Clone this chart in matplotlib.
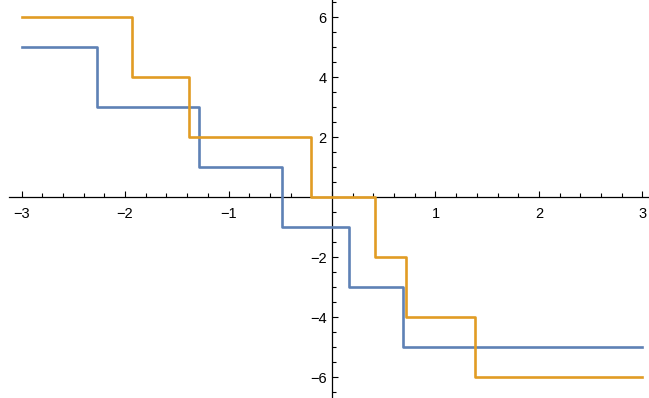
import numpy as np
import matplotlib.pyplot as plt
from matplotlib.ticker import MultipleLocator, FixedLocator, FuncFormatter

# step functions: breakpoints and the level on each interval
blue_x = [-3, -2.27, -1.285, -0.486, 0.164, 0.686, 3]
blue_y = [5, 3, 1, -1, -3, -5]
orange_x = [-3, -1.932, -1.382, -0.203, 0.419, 0.715, 1.385, 3]
orange_y = [6, 4, 2, 0, -2, -4, -6]

plt.rcParams['font.family'] = ['Liberation Sans', 'DejaVu Sans']

fig = plt.figure(figsize=(6.49, 3.98), dpi=100)
ax = fig.add_axes([0, 0, 1, 1])

ax.step(blue_x, blue_y + [blue_y[-1]], where='post', color='#5E81B5', lw=1.9, zorder=3)
ax.step(orange_x, orange_y + [orange_y[-1]], where='post', color='#E19C24', lw=1.9, zorder=4)

ax.set_xlim(-3.208, 3.063)
ax.set_ylim(-6.70, 6.57)

for s in ['top', 'right']:
    ax.spines[s].set_visible(False)
ax.spines['left'].set_position(('data', 0))
ax.spines['bottom'].set_position(('data', 0))
ax.spines['bottom'].set_bounds(-3.12, 3.063)
for s in ['left', 'bottom']:
    ax.spines[s].set_linewidth(0.9)
    ax.spines[s].set_zorder(2)

ax.xaxis.set_major_locator(FixedLocator([-3, -2, -1, 0, 1, 2, 3]))
ax.xaxis.set_minor_locator(FixedLocator(np.round(np.arange(-3, 3.01, 0.2), 2)))
ax.yaxis.set_major_locator(MultipleLocator(2))
ax.yaxis.set_minor_locator(MultipleLocator(0.5))

fmt = FuncFormatter(lambda v, p: '' if abs(v) < 1e-9 else ('%d' % round(v)).replace('-', '\u2212'))
ax.xaxis.set_major_formatter(fmt)
ax.yaxis.set_major_formatter(fmt)

ax.tick_params(which='both', direction='in', width=0.8, labelsize=10.5, colors='black')
ax.tick_params(which='major', length=4.3)
ax.tick_params(which='minor', length=2.6)
ax.tick_params(axis='x', which='both', top=False)
ax.tick_params(axis='y', which='both', right=False)
ax.tick_params(axis='x', which='major', pad=7)
ax.tick_params(axis='y', which='major', pad=4)

fig.savefig('out.png', dpi=100)
